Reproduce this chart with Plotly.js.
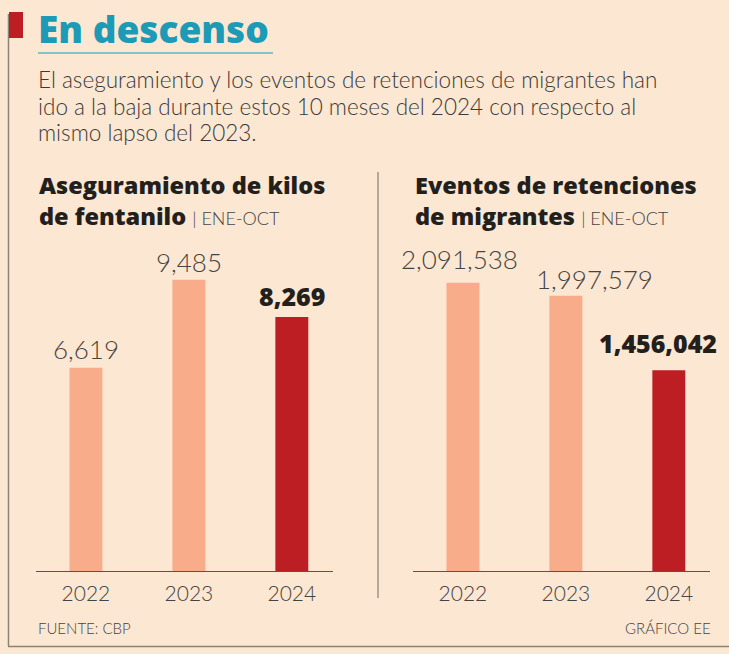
<!DOCTYPE html>
<html><head><meta charset="utf-8">
<script src="https://cdn.plot.ly/plotly-3.0.1.min.js"></script>
<style>html,body{margin:0;padding:0;background:#FCE7D2;}</style>
</head><body><div id="chart" style="width:729px;height:654px;"></div>
<script>
const years = ["2022", "2023", "2024"];
const fentanilo = [6619, 9485, 8269];
const migrantes = [2091538, 1997579, 1456042];
const barColors = ["#F8AC89", "#F8AC89", "#BD1E23"];
const title = "En descenso";
const subtitle = ["El aseguramiento y los eventos de retenciones de migrantes han",
  "ido a la baja durante estos 10 meses del 2024 con respecto al",
  "mismo lapso del 2023."];
const chart1Title = ["Aseguramiento de kilos", "de fentanilo"];
const chart2Title = ["Eventos de retenciones", "de migrantes"];
const period = "ENE-OCT";
const source = "FUENTE: CBP";
const credit = "GRÁFICO EE";

const W = 729, H = 654;
const px = x => x / W;
const py = y => 1 - y / H;
const idx = [0, 1, 2];
const fmt = v => v.toLocaleString("en-US");
const LIGHT = "Lato";
const BOLD = "Open Sans";

const traces = [
  {type: "bar", x: idx, y: fentanilo, xaxis: "x", yaxis: "y", width: 0.32,
   marker: {color: barColors}, hoverinfo: "skip"},
  {type: "bar", x: idx, y: migrantes, xaxis: "x2", yaxis: "y2", width: 0.32,
   marker: {color: barColors}, hoverinfo: "skip"}
];

const axisX = (dom) => ({domain: dom, range: [-0.49, 2.4], tickvals: idx, ticktext: years,
  showline: true, linecolor: "#5a5550", linewidth: 1, showgrid: false, zeroline: false,
  ticks: "", ticklabelstandoff: 4,
  tickfont: {family: LIGHT, size: 21, color: "#444", weight: 300}, fixedrange: true});
const axisY = (R) => ({domain: [83 / H, 414 / H], range: [0, R], visible: false, fixedrange: true});

const anns = [];
// main title
anns.push({xref: "paper", yref: "paper", x: px(36), y: py(29), xanchor: "left", yanchor: "middle",
  text: title, showarrow: false, font: {family: BOLD, size: 37, color: "#1C9AB6", weight: 800}});
subtitle.forEach((t, i) => anns.push({xref: "paper", yref: "paper", x: px(36), y: py(80 + i * 26),
  xanchor: "left", yanchor: "middle", text: t, showarrow: false,
  font: {family: LIGHT, size: 22.5, color: "#3a3a3a", weight: 300}}));
// chart titles
const periodSpan = " <span style='font-family:Lato;font-weight:300;font-size:18px;color:#444'>| " + period + "</span>";
[[chart1Title, 37], [chart2Title, 413]].forEach(([t, x0]) => {
  anns.push({xref: "paper", yref: "paper", x: px(x0), y: py(200), xanchor: "left", yanchor: "middle",
    align: "left", text: t[0] + "<br>" + t[1] + periodSpan, showarrow: false,
    font: {family: BOLD, size: 23.5, color: "#231f1c", weight: 800}});
});
// value labels
const shifts1 = [[0, 1], [0, 0], [0, 2]];
const shifts2 = [[-3, 6], [29, -1], [-11, 8]];
const lightFont = {family: LIGHT, size: 26, color: "#444", weight: 300};
const boldFont = {family: BOLD, size: 25, color: "#231f1c", weight: 800};
fentanilo.forEach((v, i) => anns.push({xref: "x", yref: "y", x: i, y: v, yanchor: "bottom",
  xshift: shifts1[i][0], yshift: shifts1[i][1], text: fmt(v), showarrow: false,
  font: i === 2 ? boldFont : lightFont}));
migrantes.forEach((v, i) => anns.push({xref: "x2", yref: "y2", x: i, y: v, yanchor: "bottom",
  xshift: shifts2[i][0], yshift: shifts2[i][1], text: fmt(v), showarrow: false,
  font: i === 2 ? boldFont : lightFont}));
// footer
anns.push({xref: "paper", yref: "paper", x: px(36), y: py(628), xanchor: "left", yanchor: "middle",
  text: source, showarrow: false, font: {family: LIGHT, size: 15, color: "#444", weight: 300}});
anns.push({xref: "paper", yref: "paper", x: px(713), y: py(628), xanchor: "right", yanchor: "middle",
  text: credit, showarrow: false, font: {family: LIGHT, size: 15, color: "#444", weight: 300}});

const shapes = [
  {type: "line", xref: "paper", yref: "paper", x0: px(8.5), x1: px(8.5), y0: py(14), y1: py(646),
   line: {color: "#8c8375", width: 1.5}},
  {type: "line", xref: "paper", yref: "paper", x0: px(8), x1: px(729), y0: py(646.5), y1: py(646.5),
   line: {color: "#8c8375", width: 1.5}},
  {type: "rect", xref: "paper", yref: "paper", x0: px(9), x1: px(23), y0: py(12), y1: py(38),
   fillcolor: "#BD1E23", line: {width: 0}},
  {type: "line", xref: "paper", yref: "paper", x0: px(38), x1: px(273), y0: py(53), y1: py(53),
   line: {color: "#5fb6c9", width: 1.5}},
  {type: "line", xref: "paper", yref: "paper", x0: px(378), x1: px(378), y0: py(172), y1: py(598),
   line: {color: "#6f6a64", width: 1}}
];

const layout = {
  width: W, height: H, margin: {l: 0, r: 0, t: 0, b: 0},
  paper_bgcolor: "#FCE7D2", plot_bgcolor: "rgba(0,0,0,0)", showlegend: false,
  xaxis: axisX([35.5 / W, 333 / W]), yaxis: axisY(10780),
  xaxis2: axisX([412.5 / W, 710 / W]), yaxis2: axisY(2402000),
  annotations: anns, shapes: shapes
};
Plotly.newPlot("chart", traces, layout, {displayModeBar: false, staticPlot: true});
</script></body></html>
